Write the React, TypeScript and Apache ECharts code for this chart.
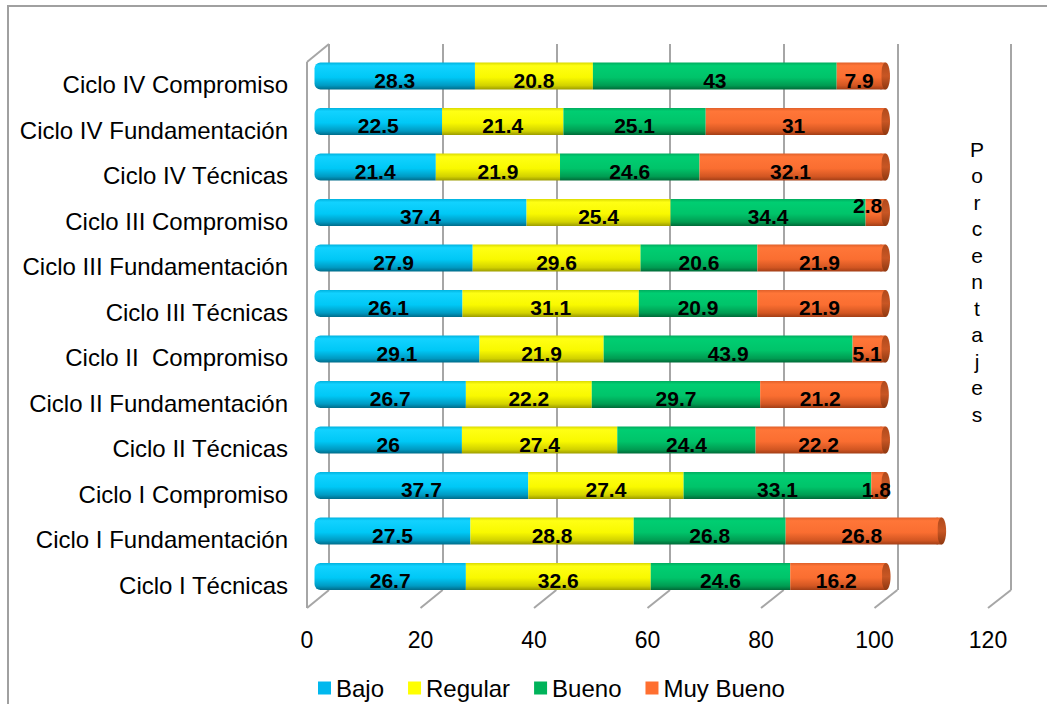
import React, { useEffect, useRef } from "react";
import * as echarts from "echarts";

// Categories listed bottom-to-top, as the category axis draws them
const categories = [
  "Ciclo I Técnicas",
  "Ciclo I Fundamentación",
  "Ciclo I Compromiso",
  "Ciclo II Técnicas",
  "Ciclo II Fundamentación",
  "Ciclo II  Compromiso",
  "Ciclo III Técnicas",
  "Ciclo III Fundamentación",
  "Ciclo III Compromiso",
  "Ciclo IV Técnicas",
  "Ciclo IV Fundamentación",
  "Ciclo IV Compromiso",
];

const bajo = [26.7, 27.5, 37.7, 26, 26.7, 29.1, 26.1, 27.9, 37.4, 21.4, 22.5, 28.3];
const regular = [32.6, 28.8, 27.4, 27.4, 22.2, 21.9, 31.1, 29.6, 25.4, 21.9, 21.4, 20.8];
const bueno = [24.6, 26.8, 33.1, 24.4, 29.7, 43.9, 20.9, 20.6, 34.4, 24.6, 25.1, 43];
const muyBueno = [16.2, 26.8, 1.8, 22.2, 21.2, 5.1, 21.9, 21.9, 2.8, 32.1, 31, 7.9];

const seriesNames = ["Bajo", "Regular", "Bueno", "Muy Bueno"];
const xTicks = [0, 20, 40, 60, 80, 100, 120];
const axisTitle = "Porcentajes";

const FONT = '"Liberation Sans", Arial, sans-serif';
const GRID_LINE = "#A6A6A6";

// cylinder shading: darker rim at the top, bright body, shadowed underside
const shade = (stops: [number, string][]) =>
  new echarts.graphic.LinearGradient(
    0, 0, 0, 1,
    stops.map(([offset, color]) => ({ offset, color }))
  );

const fills = [
  shade([[0, "#00B2DE"], [0.12, "#12D2FF"], [0.55, "#00C8F6"], [0.85, "#009AC2"], [1, "#006C8A"]]),
  shade([[0, "#DADA00"], [0.12, "#FFFF14"], [0.55, "#F9F900"], [0.85, "#D2D200"], [1, "#9C9C00"]]),
  shade([[0, "#00AC5E"], [0.12, "#00CE72"], [0.55, "#00C46A"], [0.85, "#009C52"], [1, "#006A38"]]),
  shade([[0, "#E0602A"], [0.12, "#FF7638"], [0.55, "#FA6E31"], [0.85, "#D25622"], [1, "#A23E16"]]),
];
const legendColors = ["#00B8EE", "#FFFF00", "#00B35A", "#FF6F30"];
const capFill = shade([[0, "#B04A1C"], [0.5, "#C85624"], [1, "#8E3810"]]);

const values = [bajo, regular, bueno, muyBueno];
const totals = categories.map((_, i) => values.reduce((s, arr) => s + arr[i], 0));

export default function App() {
  const ref = useRef<HTMLDivElement>(null);

  useEffect(() => {
    if (!ref.current) return;
    const chart = echarts.init(ref.current, null, { renderer: "svg" });

    const barSeries = values.map((arr, k) => ({
      name: seriesNames[k],
      type: "bar",
      stack: "total",
      xAxisIndex: 0,
      yAxisIndex: 0,
      barWidth: 27,
      z: 3,
      itemStyle: {
        color: fills[k],
        borderRadius: k === 0 ? [6, 0, 0, 6] : 0,
      },
      label: {
        show: true,
        position: "inside",
        offset: [0, 4],
        fontFamily: FONT,
        fontWeight: "bold",
        fontSize: 21,
        color: "#000",
      },
      data: arr.map((v) =>
        // the 2.8 sliver carries its label raised above the bar end
        k === 3 && v > 2.5 && v < 3 ? { value: v, label: { offset: [-6, -7] } } : v
      ),
    }));

    chart.setOption({
      animation: false,
      backgroundColor: "#fff",
      grid: [
        { left: 314.5, top: 53.25, width: 680.4, height: 546 },
        { left: 329, top: 44, width: 682, height: 546 },
        { left: 307, top: 62, width: 681, height: 546 },
      ],
      xAxis: [
        { gridIndex: 0, type: "value", min: 0, max: 120, interval: 20, show: false },
        {
          gridIndex: 1, type: "value", min: 0, max: 120, interval: 20,
          axisLine: { show: false }, axisTick: { show: false }, axisLabel: { show: false },
          splitLine: { show: true, lineStyle: { color: GRID_LINE, width: 2 } },
        },
        {
          gridIndex: 2, type: "value", min: 0, max: 120, interval: 20,
          axisLine: { show: false }, axisTick: { show: false }, splitLine: { show: false },
          axisLabel: {
            show: true, margin: 20, fontFamily: FONT, fontSize: 23, color: "#000",
            customValues: xTicks,
          },
        },
      ],
      yAxis: [
        {
          gridIndex: 0, type: "category", data: categories,
          axisLine: { show: false }, axisTick: { show: false }, splitLine: { show: false },
          axisLabel: { show: false },
        },
        { gridIndex: 1, type: "value", show: false },
        {
          // category names sit on the front plane of the 3-D box
          gridIndex: 2, type: "category", data: categories,
          axisLine: { show: false }, axisTick: { show: false }, splitLine: { show: false },
          axisLabel: { margin: 19, fontFamily: FONT, fontSize: 24, color: "#000" },
        },
      ],
      legend: {
        left: 313,
        top: 671,
        itemWidth: 13,
        itemHeight: 13,
        itemGap: 24,
        itemTextGap: 5,
        icon: "rect",
        textStyle: { fontFamily: FONT, fontSize: 24, color: "#000" },
        data: seriesNames.map((n, k) => ({ name: n, itemStyle: { color: legendColors[k] } })),
      },
      series: [
        ...barSeries,
        {
          // elliptical end faces of the cylinders
          type: "custom",
          xAxisIndex: 0,
          yAxisIndex: 0,
          z: 2,
          silent: true,
          data: totals.map((t, i) => [t, i]),
          encode: { x: 0, y: 1 },
          renderItem: (params: any, api: any) => {
            const p = api.coord([api.value(0), api.value(1)]);
            const h = 27;
            return {
              type: "group",
              children: [
                {
                  type: "rect",
                  shape: { x: p[0] - 1, y: p[1] - h / 2, width: 5, height: h },
                  style: { fill: fills[3] },
                },
                {
                  type: "ellipse",
                  shape: { cx: p[0] + 4, cy: p[1], rx: 4.5, ry: h / 2 },
                  style: { fill: capFill },
                },
              ],
            };
          },
        },
      ],
    });

    // 3-D walls and floor tick lines from the back and front axes
    const xb = (v: number) => chart.convertToPixel({ xAxisIndex: 1 }, v) as number;
    const xf = (v: number) => chart.convertToPixel({ xAxisIndex: 2 }, v) as number;
    const backTop = 44, backBottom = 590, frontTop = 62, frontBottom = 608;
    const ls = { stroke: GRID_LINE, lineWidth: 2 };
    const wallLines: any[] = xTicks.map((v) => ({
      type: "line",
      shape: { x1: xb(v), y1: backBottom, x2: xf(v), y2: frontBottom },
      style: ls,
      z: 1,
    }));
    wallLines.push(
      { type: "line", shape: { x1: xf(0), y1: frontTop, x2: xb(0), y2: backTop }, style: ls, z: 1 },
      { type: "line", shape: { x1: xf(0), y1: frontTop, x2: xf(0), y2: frontBottom }, style: ls, z: 1 }
    );

    chart.setOption({
      graphic: [
        {
          type: "rect",
          shape: { x: 8, y: 6, width: 1200, height: 900 },
          style: { fill: "none", stroke: "#A0A0A0", lineWidth: 2 },
          z: 0,
        },
        ...wallLines,
        {
          type: "text",
          x: 977,
          y: 136,
          style: {
            text: axisTitle.split("").join("\n"),
            font: `21px ${FONT}`,
            lineHeight: 26.5,
            align: "center",
            verticalAlign: "top",
            fill: "#000",
          },
        },
      ],
    });

    return () => chart.dispose();
  }, []);

  return (
    <div
      ref={ref}
      style={{ position: "fixed", left: 0, top: 0, width: 1047, height: 704, background: "#fff" }}
    />
  );
}
